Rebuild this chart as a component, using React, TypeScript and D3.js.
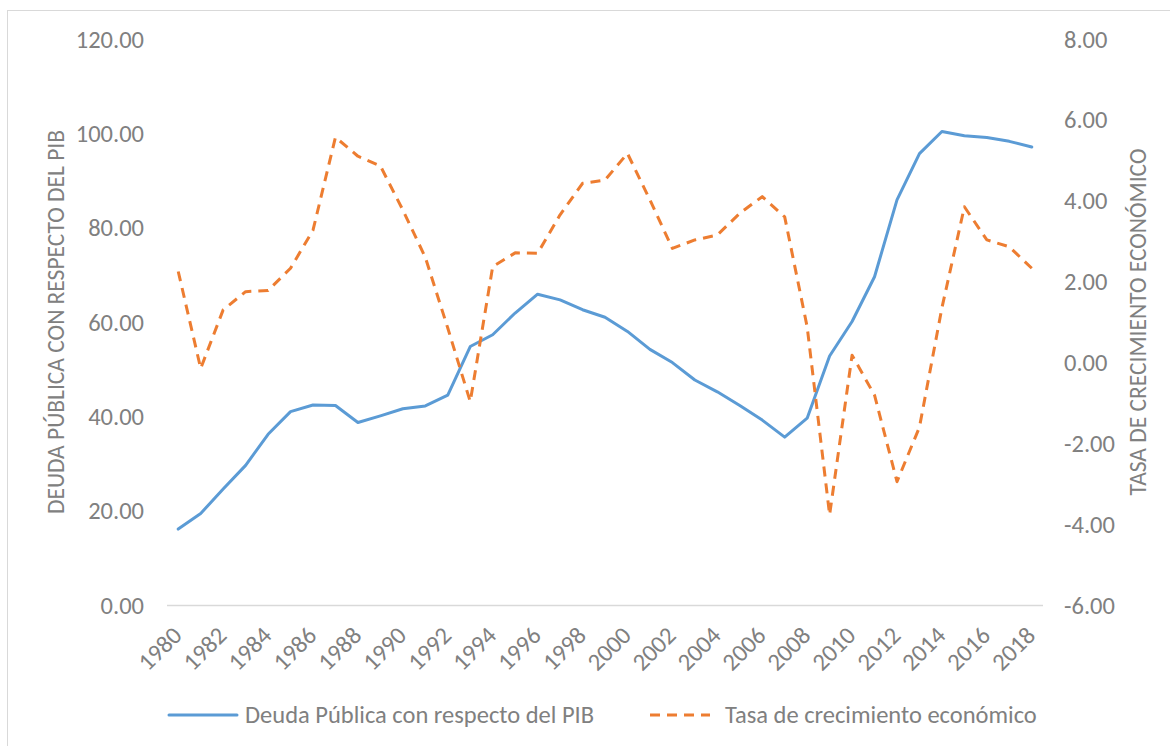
import React from "react";
import * as d3 from "d3";

const years = [
  "1980","1981","1982","1983","1984","1985","1986","1987","1988","1989",
  "1990","1991","1992","1993","1994","1995","1996","1997","1998","1999",
  "2000","2001","2002","2003","2004","2005","2006","2007","2008","2009",
  "2010","2011","2012","2013","2014","2015","2016","2017","2018",
];
const deuda = [
  16.1, 19.4, 24.6, 29.6, 36.2, 41.0, 42.4, 42.3, 38.7, 40.1,
  41.6, 42.2, 44.5, 54.8, 57.3, 61.9, 65.9, 64.7, 62.6, 61.0,
  58.0, 54.2, 51.4, 47.7, 45.2, 42.3, 39.2, 35.6, 39.6, 52.8,
  60.1, 69.6, 85.9, 95.7, 100.4, 99.5, 99.1, 98.3, 97.1,
];
const crecimiento = [
  2.25, -0.15, 1.3, 1.75, 1.78, 2.33, 3.27, 5.57, 5.1, 4.86,
  3.77, 2.6, 0.85, -0.97, 2.37, 2.71, 2.7, 3.65, 4.43, 4.51,
  5.17, 4.02, 2.82, 3.03, 3.15, 3.69, 4.1, 3.6, 0.88, -3.77,
  0.18, -0.81, -2.95, -1.6, 1.35, 3.85, 3.03, 2.86, 2.33,
];
const leftTicks = [0, 20, 40, 60, 80, 100, 120];
const rightTicks = [-6, -4, -2, 0, 2, 4, 6, 8];
const xLabels = years.filter((_, i) => i % 2 === 0);
const seriesNames = ["Deuda Pública con respecto del PIB", "Tasa de crecimiento económico"];
const axisTitles = ["DEUDA PÚBLICA CON RESPECTO DEL PIB", "TASA DE CRECIMIENTO ECONÓMICO"];

const W = 1170, H = 746;
const plot = { left: 167, right: 1043, top: 39, bottom: 605 };
const FONT = "Carlito, Calibri, 'Noto Sans', sans-serif";
const TXT = "#808080";
const BLUE = "#5B9BD5";
const ORANGE = "#ED7D31";
const FS = 24.5;

export default function App() {
  const x = d3.scalePoint<string>().domain(years).range([plot.left, plot.right]).padding(0.5);
  const yL = d3.scaleLinear().domain([0, 120]).range([plot.bottom, plot.top]);
  const yR = d3.scaleLinear().domain([-6, 8]).range([plot.bottom, plot.top]);
  const lineL = d3.line<number>().x((_, i) => x(years[i])!).y((d) => yL(d));
  const lineR = d3.line<number>().x((_, i) => x(years[i])!).y((d) => yR(d));
  const midY = (plot.top + plot.bottom) / 2;

  return (
    <svg width={W} height={H} style={{ position: "absolute", left: 0, top: 0, background: "#fff" }} fontFamily={FONT}>
      <rect x={7.5} y={10.5} width={W} height={H} fill="#fff" stroke="#d9d9d9" strokeWidth={1} />
      <line x1={plot.left} x2={plot.right} y1={plot.bottom + 0.5} y2={plot.bottom + 0.5} stroke="#d9d9d9" strokeWidth={1.5} />
      {leftTicks.map((t) => (
        <text key={"l" + t} x={144} y={yL(t)} dy="0.35em" textAnchor="end" fontSize={FS} fill={TXT}>
          {t.toFixed(2)}
        </text>
      ))}
      {rightTicks.map((t) => (
        <text key={"r" + t} x={1064} y={yR(t)} dy="0.35em" textAnchor="start" fontSize={FS} fill={TXT}>
          {t.toFixed(2)}
        </text>
      ))}
      {xLabels.map((lab) => (
        <text key={lab} transform={`translate(${x(lab)! + 5},${plot.bottom + 32}) rotate(-45)`} textAnchor="end" fontSize={FS} fill={TXT}>
          {lab}
        </text>
      ))}
      <text transform={`translate(64,${midY}) rotate(-90)`} textAnchor="middle" fontSize={23.5} fill={TXT}>
        {axisTitles[0]}
      </text>
      <text transform={`translate(1146,${midY}) rotate(-90)`} textAnchor="middle" fontSize={23.5} fill={TXT}>
        {axisTitles[1]}
      </text>
      <path d={lineL(deuda)!} fill="none" stroke={BLUE} strokeWidth={3} strokeLinejoin="round" strokeLinecap="round" />
      <path d={lineR(crecimiento)!} fill="none" stroke={ORANGE} strokeWidth={3} strokeDasharray="10,7" strokeLinejoin="round" />
      <line x1={169} x2={237} y1={715} y2={715} stroke={BLUE} strokeWidth={3} strokeLinecap="round" />
      <text x={245} y={723} fontSize={FS} fill={TXT}>{seriesNames[0]}</text>
      <line x1={650} x2={710} y1={715} y2={715} stroke={ORANGE} strokeWidth={3} strokeDasharray="10,7" />
      <text x={725} y={723} fontSize={FS} fill={TXT}>{seriesNames[1]}</text>
    </svg>
  );
}
